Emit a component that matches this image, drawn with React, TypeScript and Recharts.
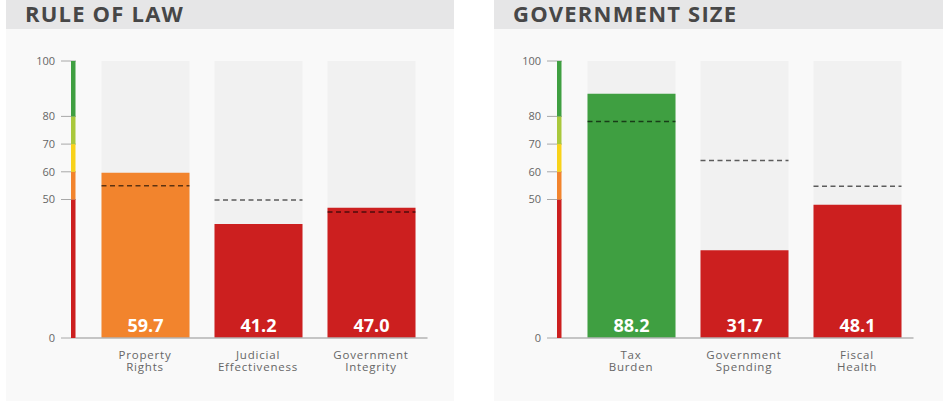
import React from 'react';
import { BarChart, Bar, XAxis, YAxis, Cell, LabelList } from 'recharts';

// ---- data ----
const ruleTitle = 'RULE OF LAW';
const ruleCategories = ['Property Rights', 'Judicial Effectiveness', 'Government Integrity'];
const ruleScores = [59.7, 41.2, 47.0];
const ruleAverages = [55.0, 49.8, 45.5];

const sizeTitle = 'GOVERNMENT SIZE';
const sizeCategories = ['Tax Burden', 'Government Spending', 'Fiscal Health'];
const sizeScores = [88.2, 31.7, 48.1];
const sizeAverages = [78.2, 64.1, 54.8];

const yTicks = [0, 50, 60, 70, 80, 100];
const scaleBreaks = [0, 50, 60, 70, 80, 100];
const scaleColors = ['#cc1f1f', '#f2842d', '#f8d21a', '#a9c83c', '#3f9f41'];

// ---- helpers ----
const colorFor = (v: number) => {
  let idx = 0;
  for (let i = 0; i < scaleColors.length; i++) {
    if (v >= scaleBreaks[i]) idx = i;
  }
  return scaleColors[idx];
};

const scaleKeys = scaleColors.map((_, i) => 's' + i);
const scaleRow: Record<string, number | string> = { name: 'scale' };
scaleKeys.forEach((k, i) => {
  scaleRow[k] = scaleBreaks[i + 1] - scaleBreaks[i];
});
const scaleData = [scaleRow];

const PLOT_TOP = 61;
const CHART_H = 401;
const X_AXIS_H = 40;
const PLOT_BOTTOM_MARGIN = 23;
const Y_AXIS_W = 60;
const BAND_PAD = 12.5;
const BAR_W = 88;
const BAND_W = 113;

const AvgLine = (props: any) => {
  const { x, y, width } = props;
  if (x == null || y == null) return null;
  return (
    <line
      x1={x}
      x2={x + width}
      y1={y}
      y2={y}
      stroke="rgba(0,0,0,0.62)"
      strokeWidth={1.5}
      strokeDasharray="5 3.5"
    />
  );
};

const CatTick = (props: any) => {
  const { x, y, payload } = props;
  const parts = String(payload.value).split(' ');
  return (
    <text
      x={x}
      y={y}
      textAnchor="middle"
      fill="#666666"
      fontSize={11.5}
      letterSpacing={0.8}
      fontFamily="Open Sans"
    >
      {parts.map((p, i) => (
        <tspan key={i} x={x} y={y + 21 + i * 11.5}>
          {p}
        </tspan>
      ))}
    </text>
  );
};

type PanelProps = {
  left: number;
  width: number;
  plotLeft: number;
  title: string;
  categories: string[];
  scores: number[];
  averages: number[];
};

const Panel = ({ left, width, plotLeft, title, categories, scores, averages }: PanelProps) => {
  const rows = categories.map((c, i) => ({ name: c, score: scores[i], avg: averages[i] }));
  const marginRight = width - (plotLeft + BAND_PAD + BAND_W * categories.length);
  return (
    <div
      style={{
        position: 'absolute',
        left,
        top: 0,
        width,
        height: CHART_H,
        background: '#f9f9f9',
      }}
    >
      <div
        style={{
          position: 'absolute',
          left: 0,
          top: 0,
          width,
          height: 29,
          background: '#e6e6e7',
        }}
      />
      <svg
        width={width}
        height={40}
        style={{ position: 'absolute', left: 0, top: 0, overflow: 'visible' }}
      >
        <text
          x={19}
          y={22}
          fill="#474747"
          fontSize={22}
          fontWeight={700}
          letterSpacing={1.2}
          fontFamily="Open Sans"
        >
          {title}
        </text>
      </svg>
      <div style={{ position: 'absolute', left: 0, top: 0 }}>
        <BarChart
          width={width}
          height={CHART_H}
          data={rows}
          margin={{ top: PLOT_TOP, right: marginRight, bottom: PLOT_BOTTOM_MARGIN, left: plotLeft - Y_AXIS_W }}
        >
          <XAxis
            dataKey="name"
            height={X_AXIS_H}
            padding={{ left: BAND_PAD, right: 0 }}
            tickLine={false}
            tickSize={0}
            tickMargin={0}
            interval={0}
            tick={<CatTick />}
            axisLine={{ stroke: '#b3b3b3', strokeWidth: 1.5 }}
          />
          <XAxis xAxisId="avg" dataKey="name" hide padding={{ left: BAND_PAD, right: 0 }} />
          <YAxis
            domain={[0, 100]}
            ticks={yTicks}
            interval={0}
            width={Y_AXIS_W}
            tickSize={15}
            tickMargin={6}
            axisLine={false}
            tickLine={{ stroke: '#a8a8a8' }}
            tick={{ fill: '#666666', fontSize: 11, fontFamily: 'Open Sans' }}
          />
          <Bar
            dataKey="score"
            barSize={BAR_W}
            background={{ fill: '#f1f1f1' }}
            isAnimationActive={false}
          >
            {rows.map((r, i) => (
              <Cell key={i} fill={colorFor(r.score)} />
            ))}
            <LabelList
              dataKey="score"
              position="insideBottom"
              offset={6}
              fill="#ffffff"
              fontSize={18}
              fontWeight={700}
              fontFamily="Open Sans"
              formatter={(v: any) => Number(v).toFixed(1)}
            />
          </Bar>
          <Bar
            dataKey="avg"
            xAxisId="avg"
            barSize={BAR_W}
            shape={<AvgLine />}
            isAnimationActive={false}
          />
        </BarChart>
      </div>
      <div style={{ position: 'absolute', left: plotLeft - 5, top: 0 }}>
        <BarChart
          width={5}
          height={CHART_H}
          data={scaleData}
          margin={{ top: PLOT_TOP, right: 0, bottom: PLOT_BOTTOM_MARGIN + X_AXIS_H, left: 0 }}
          barCategoryGap={0}
        >
          <XAxis dataKey="name" hide />
          <YAxis domain={[0, 100]} hide />
          {scaleKeys.map((k, i) => (
            <Bar
              key={k}
              dataKey={k}
              stackId="scale"
              fill={scaleColors[i]}
              barSize={5}
              isAnimationActive={false}
            />
          ))}
        </BarChart>
      </div>
    </div>
  );
};

export default function App() {
  return (
    <div
      style={{
        position: 'absolute',
        left: 0,
        top: 0,
        width: 943,
        height: 403,
        background: '#ffffff',
        fontFamily: 'Open Sans',
        overflow: 'hidden',
      }}
    >
      <Panel
        left={6}
        width={448}
        plotLeft={70}
        title={ruleTitle}
        categories={ruleCategories}
        scores={ruleScores}
        averages={ruleAverages}
      />
      <Panel
        left={494}
        width={449}
        plotLeft={68}
        title={sizeTitle}
        categories={sizeCategories}
        scores={sizeScores}
        averages={sizeAverages}
      />
    </div>
  );
}
